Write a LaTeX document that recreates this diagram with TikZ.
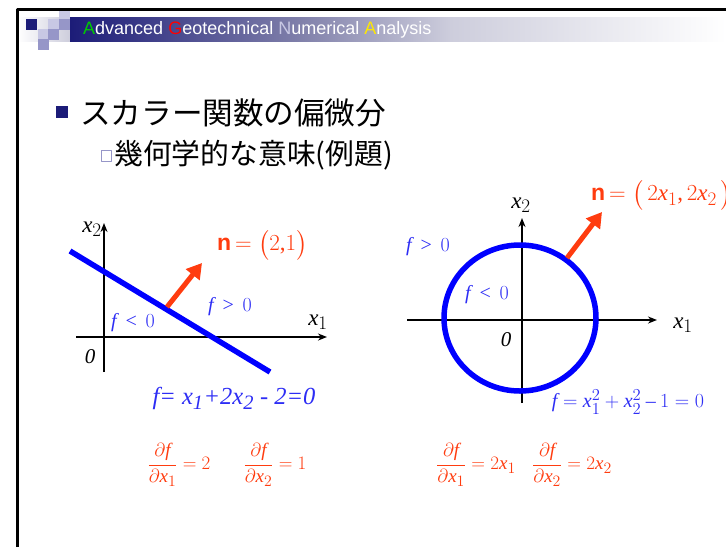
\RequirePackage{fix-cm}
\documentclass[tikz,border=0pt]{standalone}
\usepackage{amsmath}
\usepackage{fontspec}
\setmainfont{Liberation Serif}
\setsansfont{Liberation Sans}
\newfontfamily\jpfont{Noto Sans CJK JP}
\usepackage[italic]{mathastext}
\usetikzlibrary{arrows.meta}
\definecolor{navy}{RGB}{28,28,120}
\definecolor{hdmid}{RGB}{128,128,170}
\definecolor{hdlav}{RGB}{205,205,220}
\definecolor{sqlight}{RGB}{200,200,228}
\definecolor{sqmid}{RGB}{150,150,200}
\definecolor{fblue}{RGB}{45,45,245}
\definecolor{nred}{RGB}{255,60,15}
\tikzset{
  axis/.style={line width=2.2pt, -{Stealth[length=9pt,width=7pt]}},
  curve/.style={draw=blue, line width=5.5pt},
  normal/.style={draw=nred, line width=5pt, -{Triangle[length=15pt,width=17pt]}},
  lbl/.style={font=\fontsize{23}{25}\selectfont, inner sep=0pt},
  flbl/.style={font=\fontsize{20}{22}\selectfont, text=fblue, inner sep=0pt},
  nlbl/.style={font=\fontsize{23}{25}\selectfont, text=nred, inner sep=0pt},
  deriv/.style={font=\fontsize{19}{21}\selectfont, text=nred, inner sep=0pt}
}
\begin{document}
\begin{tikzpicture}[x=1pt, y=-1pt, line join=round]
\useasboundingbox (0,0) rectangle (726,547);
% frame and header
\fill[white] (0,0) rectangle (726,547);
\shade[left color=white, right color=hdlav] (18,17) rectangle (70,41);
\shade[left color=navy, right color=hdmid] (70,17) rectangle (300,41);
\shade[left color=hdmid, right color=hdlav] (300,17) rectangle (450,41);
\shade[left color=hdlav, right color=white] (450,17) rectangle (726,41);
\foreach \x/\y/\c in {26/19/navy, 48/19/sqlight, 59/9/sqlight, 59/19/sqmid,
  38/29/sqlight, 48/29/sqmid, 38/39/sqmid}
  \fill[\c] (\x,\y) rectangle ++(10.5,10.5);
\draw[line width=3pt] (17,547) -- (17,9) -- (726,9);
\node[anchor=west, inner sep=0pt, text=white, font=\sffamily\fontsize{18}{20}\selectfont] (head) at (83,30)
  {{\color{green!80!black}A}dvanced {\color{red}G}eotechnical {\color{sqlight}N}umerical {\color{yellow!90!orange}A}nalysis};
% titles
\fill[navy] (56,106) rectangle (68,118);
\node[anchor=west, inner sep=0pt, font=\jpfont\fontsize{30.6}{32}\selectfont] (title) at (80,113) {スカラー関数の偏微分};
\draw[sqmid, line width=1pt] (101,150) rectangle (111,161);
\node[anchor=west, inner sep=0pt, font=\jpfont\fontsize{28.8}{30}\selectfont] (sub) at (114,155) {幾何学的な意味(例題)};
% left: straight line
\path (104,337) coordinate (O1)
  (76,337) coordinate (A1s) (327,337) coordinate (A1e)
  (104,372) coordinate (A2s) (104,223) coordinate (A2e)
  (70,251) coordinate (L1) (270,372) coordinate (L2)
  (167,307) coordinate (N1) (202,263) coordinate (N2);
\draw[axis] (A1s) -- (A1e);
\draw[axis] (A2s) -- (A2e);
\draw[curve] (L1) -- (L2);
\draw[normal] (N1) -- (N2);
\node[lbl] (x2l) at (92,229) {$x_2$};
\node[lbl] (x1l) at (318,322) {$x_1$};
\node[lbl, font=\itshape\fontsize{21}{23}\selectfont] (o1l) at (90,357) {0};
\node[nlbl, anchor=west] (n1) at (217,245) {{\sffamily\bfseries n}$\,=\bigl(2{,}1\bigr)$};
\node[flbl] (fp1) at (230,307) {$f\,>\,0$};
\node[flbl] (fm1) at (133,323) {$f\,<\,0$};
\node[flbl, font=\itshape\fontsize{24.5}{26}\selectfont] (eq1) at (234,398) {f= x\textsubscript{\itshape 1}+2x\textsubscript{2} - 2=0};
% right: circle
\path (522,320) coordinate (O2) (520,318) coordinate (C)
  (407,320) coordinate (B1s) (657,320) coordinate (B1e)
  (522,403) coordinate (B2s) (522,218) coordinate (B2e)
  (567,258) coordinate (M1) (602,212) coordinate (M2);
\draw[axis] (B1s) -- (B1e);
\draw[axis] (B2s) -- (B2e);
\draw[curve] (C) ellipse [x radius=76, y radius=73];
\draw[normal] (M1) -- (M2);
\node[lbl] (x2r) at (521,205) {$x_2$};
\node[lbl] (x1r) at (683,325) {$x_1$};
\node[lbl, font=\itshape\fontsize{21}{23}\selectfont] (o2l) at (506,340) {0};
\node[nlbl, anchor=west] (n2) at (591,195) {{\sffamily\bfseries n}$\,=\bigl(\,2x_1{,}\,2x_2\,\bigr)$};
\node[flbl] (fp2) at (428,247) {$f\,>\,0$};
\node[flbl] (fm2) at (487,295) {$f\,<\,0$};
\node[flbl] (eq2) at (628,402) {$f=x_1^2+x_2^2-1=0$};
% derivatives
\node[deriv] (d1) at (179,465) {$\dfrac{\partial f}{\partial x_1}=2$};
\node[deriv] (d2) at (275,465) {$\dfrac{\partial f}{\partial x_2}=1$};
\node[deriv] (d3) at (476,465) {$\dfrac{\partial f}{\partial x_1}=2x_1$};
\node[deriv] (d4) at (572,465) {$\dfrac{\partial f}{\partial x_2}=2x_2$};
\end{tikzpicture}
\end{document}
